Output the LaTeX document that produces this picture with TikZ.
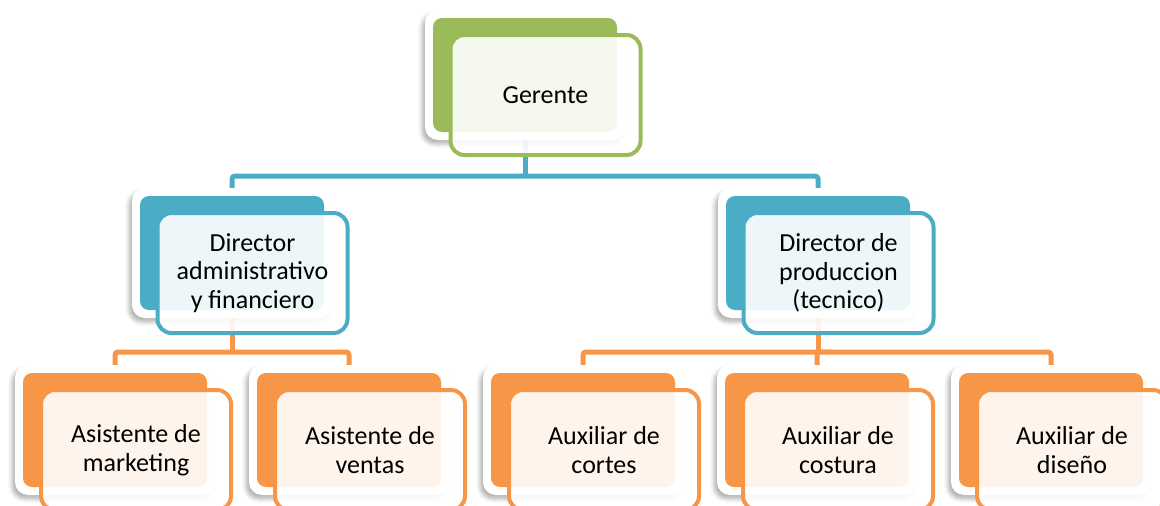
\documentclass[tikz,border=0pt]{standalone}
\usepackage{fontspec}
\setmainfont{Carlito}
\usepackage{xcolor}
\usetikzlibrary{shadows.blur}

\definecolor{orgGreen}{HTML}{9BBB59}
\definecolor{orgBlue}{HTML}{4BACC6}
\definecolor{orgOrange}{HTML}{F79646}

\begin{document}
\begin{tikzpicture}[x=1pt,y=-1pt,
    plate/.style={fill=white, rounded corners=13pt, minimum width=200pt, minimum height=130pt,
        blur shadow={shadow xshift=-3pt, shadow yshift=-4pt, shadow blur radius=4pt, shadow opacity=30}},
    backbox/.style={fill=#1, rounded corners=9pt, minimum width=184pt, minimum height=114pt},
    frontbox/.style={draw=#1, line width=4pt, fill=white, fill opacity=0.9, text opacity=1,
        rounded corners=14pt, minimum width=190pt, minimum height=120pt, align=center,
        font=\fontsize{26}{28.5}\selectfont},
    link/.style={draw=#1, line width=5pt, rounded corners=3pt}]
    \useasboundingbox (0,0) rectangle (1160,506);

    % hidden anchors for the boxes, connectors go under them
    \coordinate (ger) at (525,75);
    \coordinate (dirA) at (232,253);
    \coordinate (dirP) at (818,253);
    \coordinate (asM) at (115,430);
    \coordinate (asV) at (349,430);
    \coordinate (auC) at (583,430);
    \coordinate (auS) at (817,430);
    \coordinate (auD) at (1051,430);
    \coordinate (jt1) at (525,176);
    \coordinate (jt2) at (232,352);
    \coordinate (jt3) at (818,352);

    \draw[link=orgBlue] (ger) -- (jt1);
    \draw[link=orgBlue] (jt1) -| (dirA);
    \draw[link=orgBlue] (jt1) -| (dirP);
    \draw[link=orgOrange] (dirA) -- (jt2);
    \draw[link=orgOrange] (jt2) -| (asM);
    \draw[link=orgOrange] (jt2) -| (asV);
    \draw[link=orgOrange] (dirP) -- (jt3);
    \draw[link=orgOrange] (jt3) -| (auC);
    \draw[link=orgOrange] (jt3) -| (auS);
    \draw[link=orgOrange] (jt3) -| (auD);

    % gerente
    \node[plate] (gerW) at (ger) {};
    \node[backbox=orgGreen] (gerB) at (ger) {};
    \node[frontbox=orgGreen] (gerF) at ([shift={(20.5,20)}]ger) {Gerente};

    % directores
    \node[plate] (dirAW) at (dirA) {};
    \node[backbox=orgBlue] (dirAB) at (dirA) {};
    \node[frontbox=orgBlue] (dirAF) at ([shift={(20.5,20)}]dirA) {Director\\administrativo\\y financiero};
    \node[plate] (dirPW) at (dirP) {};
    \node[backbox=orgBlue] (dirPB) at (dirP) {};
    \node[frontbox=orgBlue] (dirPF) at ([shift={(20.5,20)}]dirP) {Director de\\produccion\\(tecnico)};

    % asistentes y auxiliares
    \node[plate] (asMW) at (asM) {};
    \node[backbox=orgOrange] (asMB) at (asM) {};
    \node[frontbox=orgOrange] (asMF) at ([shift={(21,20)}]asM) {Asistente de\\marketing};
    \node[plate] (asVW) at (asV) {};
    \node[backbox=orgOrange] (asVB) at (asV) {};
    \node[frontbox=orgOrange] (asVF) at ([shift={(21,20)}]asV) {Asistente de\\ventas};
    \node[plate] (auCW) at (auC) {};
    \node[backbox=orgOrange] (auCB) at (auC) {};
    \node[frontbox=orgOrange] (auCF) at ([shift={(21,20)}]auC) {Auxiliar de\\cortes};
    \node[plate] (auSW) at (auS) {};
    \node[backbox=orgOrange] (auSB) at (auS) {};
    \node[frontbox=orgOrange] (auSF) at ([shift={(21,20)}]auS) {Auxiliar de\\costura};
    \node[plate] (auDW) at (auD) {};
    \node[backbox=orgOrange] (auDB) at (auD) {};
    \node[frontbox=orgOrange] (auDF) at ([shift={(21,20)}]auD) {Auxiliar de\\diseño};

\end{tikzpicture}
\end{document}
